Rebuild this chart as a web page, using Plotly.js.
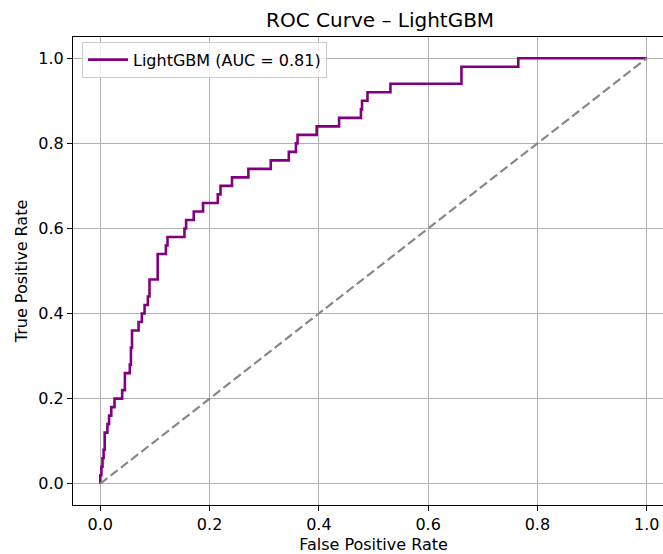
<!DOCTYPE html>
<html>
<head>
<meta charset="utf-8">
<script src="https://cdn.plot.ly/plotly-3.0.1.min.js"></script>
<style>
html, body { margin: 0; padding: 0; overflow: hidden; background: #fff; }
#chart { width: 680px; height: 554px; }
</style>
</head>
<body>
<div id="chart"></div>
<script>
// ROC curve corner points
const fpr = [0, 0, 0.002, 0.002, 0.004, 0.004, 0.006, 0.006, 0.008, 0.008, 0.013, 0.013, 0.016, 0.016, 0.020, 0.020, 0.026, 0.026,
  0.040, 0.040, 0.045, 0.045, 0.054, 0.054, 0.056, 0.056, 0.058, 0.058, 0.070, 0.070, 0.076, 0.076, 0.081, 0.081,
  0.087, 0.087, 0.090, 0.090, 0.105, 0.105, 0.120, 0.120, 0.123, 0.123, 0.154, 0.154, 0.157, 0.157, 0.171, 0.171,
  0.188, 0.188, 0.215, 0.215, 0.220, 0.220, 0.241, 0.241, 0.271, 0.271, 0.312, 0.312, 0.345, 0.345, 0.358, 0.358,
  0.361, 0.361, 0.396, 0.396, 0.437, 0.437, 0.477, 0.477, 0.479, 0.479, 0.489, 0.489, 0.531, 0.531, 0.661, 0.661,
  0.765, 0.765, 1.0];
const tpr = [0, 0.02, 0.02, 0.04, 0.04, 0.06, 0.06, 0.08, 0.08, 0.12, 0.12, 0.14, 0.14, 0.16, 0.16, 0.18, 0.18, 0.20,
  0.20, 0.22, 0.22, 0.26, 0.26, 0.28, 0.28, 0.32, 0.32, 0.36, 0.36, 0.38, 0.38, 0.40, 0.40, 0.42,
  0.42, 0.44, 0.44, 0.48, 0.48, 0.54, 0.54, 0.56, 0.56, 0.58, 0.58, 0.60, 0.60, 0.62, 0.62, 0.64,
  0.64, 0.66, 0.66, 0.68, 0.68, 0.70, 0.70, 0.72, 0.72, 0.74, 0.74, 0.76, 0.76, 0.78, 0.78, 0.80,
  0.80, 0.82, 0.82, 0.84, 0.84, 0.86, 0.86, 0.88, 0.88, 0.90, 0.90, 0.92, 0.92, 0.94, 0.94, 0.98,
  0.98, 1.0, 1.0];
const diagX = [0, 1];
const diagY = [0, 1];
const curveName = 'LightGBM (AUC = 0.81)';
const tickVals = [0, 0.2, 0.4, 0.6, 0.8, 1.0];
const tickText = ['0.0', '0.2', '0.4', '0.6', '0.8', '1.0'];

const font = 'DejaVu Sans, sans-serif';
const fs = 16;

const traces = [
  {
    x: fpr, y: tpr, type: 'scatter', mode: 'lines', name: curveName,
    line: { color: '#800080', width: 2.6 }
  },
  {
    x: diagX, y: diagY, type: 'scatter', mode: 'lines', showlegend: false,
    line: { color: '#888888', width: 2.2, dash: '9px,4px' }
  }
];

const axisCommon = {
  showline: true, linecolor: '#000', linewidth: 1, mirror: true,
  ticks: 'outside', ticklen: 5, tickwidth: 1, tickcolor: '#000',
  showgrid: true, gridcolor: '#b0b0b0', gridwidth: 1,
  zeroline: false, tickvals: tickVals, ticktext: tickText,
  tickfont: { family: font, size: fs, color: '#000' }
};

const layout = {
  width: 680, height: 554,
  margin: { l: 73, r: 6, t: 37, b: 49 },
  paper_bgcolor: '#fff', plot_bgcolor: '#fff',
  font: { family: font, color: '#000' },
  title: {
    text: 'ROC Curve – LightGBM', font: { family: font, size: 20, color: '#000' },
    xref: 'paper', x: 0.511, xanchor: 'center', yref: 'container', y: 0.963, yanchor: 'middle'
  },
  xaxis: Object.assign({}, axisCommon, {
    range: [-0.05, 1.05],
    title: { text: 'False Positive Rate', font: { family: font, size: fs, color: '#000' }, standoff: 6 }
  }),
  yaxis: Object.assign({}, axisCommon, {
    range: [-0.05, 1.05],
    title: { text: 'True Positive Rate', font: { family: font, size: fs, color: '#000' }, standoff: 6 }
  }),
  legend: {
    x: 0.015, y: 0.99, xanchor: 'left', yanchor: 'top',
    bgcolor: 'rgba(255,255,255,0.8)', bordercolor: '#cccccc', borderwidth: 1,
    itemwidth: 40,
    font: { family: font, size: fs, color: '#000' }
  },
  showlegend: true
};

Plotly.newPlot('chart', traces, layout, { displayModeBar: false, staticPlot: true });
</script>
</body>
</html>
